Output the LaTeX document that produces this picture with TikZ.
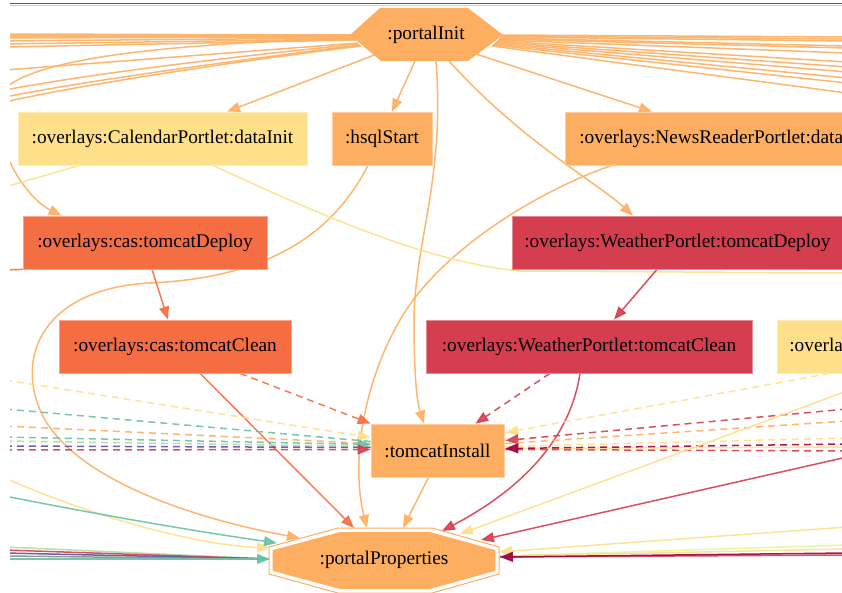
\documentclass[tikz,border=0pt]{standalone}
\usepackage{fontspec}
\setmainfont{Liberation Serif}
\usetikzlibrary{arrows.meta,calc}
\definecolor{cOr}{HTML}{FDAE61}
\definecolor{cYe}{HTML}{FEE08B}
\definecolor{cRo}{HTML}{F46D43}
\definecolor{cRe}{HTML}{D53E4F}
\definecolor{cTe}{HTML}{66C2A5}
\definecolor{cDr}{HTML}{9E0142}
\definecolor{cPu}{HTML}{5E4FA2}
\definecolor{cGr}{HTML}{ABDDA4}
\definecolor{cLg}{HTML}{E6F598}
\newcommand\nf{\fontsize{19.3}{23}\selectfont}
\pgfdeclarelayer{bg}
\pgfsetlayers{bg,main}
\tikzset{
  box/.style={rectangle, minimum height=53pt, inner sep=0pt, font=\nf, text=black, line width=0.7pt},
  ed/.style={line width=1.5pt, opacity=0.9},
  dsh/.style={ed, dash pattern=on 7pt off 5pt},
  arr/.style={-{Triangle[length=13pt,width=10pt]}},
}
\begin{document}
\begin{tikzpicture}[x=1pt,y=-1pt]
\useasboundingbox (0,0) rectangle (842,593);
\draw[black!65, line width=1.1pt] (10,3.2) -- (842,3.2);
\draw[black!20, line width=0.6pt] (10,5) -- (842,5);
\begin{scope}
\clip (10,6) rectangle (842,593);
% ---------- nodes ----------
\fill[cOr] (380,8) -- (468,8) -- (503,35) -- (468,61) -- (381,61) -- (350,35) -- cycle;
\node[font=\nf] (pI) at (426,35) {:portalInit};
\node[box, fill=cYe, draw=cYe!60!white, minimum width=289pt] (cal) at (162.5,138.5) {:overlays:CalendarPortlet:dataInit};
\node[box, fill=cOr, draw=cOr!60!white, minimum width=100pt] (hsql) at (382,138.5) {:hsqlStart};
\node[box, fill=cOr, draw=cOr!60!white, anchor=west, inner xsep=14pt] (news) at (565,138.5) {:overlays:NewsReaderPortlet:dataInit};
\node[box, fill=cRo, draw=cRo!60!white, minimum width=244pt] (casD) at (145,242.5) {:overlays:cas:tomcatDeploy};
\node[box, fill=cRe, draw=cRe!60!white, anchor=west, inner xsep=12pt] (wD) at (512,242.5) {:overlays:WeatherPortlet:tomcatDeploy};
\node[box, fill=cRo, draw=cRo!60!white, minimum width=232pt] (casC) at (175,346.5) {:overlays:cas:tomcatClean};
\node[box, fill=cRe, draw=cRe!60!white, minimum width=326pt] (wC) at (589,346.5) {:overlays:WeatherPortlet:tomcatClean};
\node[box, fill=cYe, draw=cYe!60!white, anchor=west, inner xsep=12pt] (ovl) at (777,346.5) {:overlays:CalendarPortlet:tomcatClean};
\node[box, fill=cOr, draw=cOr!60!white, minimum width=133pt] (tI) at (437.5,450.5) {:tomcatInstall};
\draw[cOr, line width=1pt, fill=white] (338,528) -- (432,528) -- (499,547) -- (499,574) -- (432,593) -- (338,593) -- (269,574) -- (269,547) -- cycle;
\filldraw[cOr, line width=0.8pt] (340,532.5) -- (430,532.5) -- (495,550.5) -- (495,570.5) -- (430,588.5) -- (340,588.5) -- (273,570.5) -- (273,550.5) -- cycle;
\node[font=\nf] (pP) at (384,560) {:portalProperties};
\end{scope}
% ---------- edges ----------
\begin{pgfonlayer}{bg}
\begin{scope}
\clip (10,6) rectangle (842,593);
\foreach \n/\y in {a/34,b/36,c/38,d/41,e/44,f/47,g/70,h/90,i/97,j/102}{\coordinate (L\n) at (5,\y);}
\foreach \n/\y in {a/37,b/39,c/41,d/46,e/48,f/53,g/62,h/67,i/72,j/78,k/83,l/93}{\coordinate (R\n) at (847,\y);}
% portalInit fan to the left
\draw[ed,cOr] ($(pI)+(-74,0)$) -- (La);
\draw[ed,cOr] ($(pI)+(-74,1)$) -- (Lb);
\draw[ed,cOr] ($(pI)+(-73,2)$) -- (Lc);
\draw[ed,cOr] ($(pI)+(-72,3)$) -- (Ld);
\draw[ed,cOr] ($(pI)+(-71,4)$) -- (Le);
\draw[ed,cOr] ($(pI)+(-70,5)$) -- (Lf);
\draw[ed,cOr] ($(pI)+(-68,8)$) -- (Lg);
\draw[ed,cOr] ($(pI)+(-67,9)$) .. controls (250,55) and (100,72) .. (Lh);
\draw[ed,cOr] ($(pI)+(-66,10)$) .. controls (240,60) and (90,80) .. (Li);
\draw[ed,cOr] ($(pI)+(-65,11)$) .. controls (230,62) and (80,85) .. (Lj);
% portalInit fan to the right
\draw[ed,cOr] ($(pI)+(76,0)$) -- (Ra);
\draw[ed,cOr] ($(pI)+(76,1)$) -- (Rb);
\draw[ed,cOr] ($(pI)+(75,2)$) -- (Rc);
\draw[ed,cOr] ($(pI)+(74,3)$) -- (Rd);
\draw[ed,cOr] ($(pI)+(73,4)$) -- (Re);
\draw[ed,cOr] ($(pI)+(72,5)$) -- (Rf);
\draw[ed,cOr] ($(pI)+(71,6)$) -- (Rg);
\draw[ed,cOr] ($(pI)+(70,7)$) -- (Rh);
\draw[ed,cOr] ($(pI)+(69,8)$) -- (Ri);
\draw[ed,cOr] ($(pI)+(68,9)$) -- (Rj);
\draw[ed,cOr] ($(pI)+(67,10)$) -- (Rk);
\draw[ed,cOr] ($(pI)+(66,11)$) -- (Rl);
% portalInit to its children
\draw[ed,cOr,arr] ($(pI)+(-49,19)$) -- ($(cal.north)+(64.5,0)$);
\draw[ed,cOr,arr] ($(pI)+(-11,26)$) -- ($(hsql.north)+(10,0)$);
\draw[ed,cOr,arr] ($(pI)+(50,19)$) -- ($(news.north west)+(87,0)$);
\draw[ed,cOr,arr] ($(pI)+(23,26)$) .. controls (520,140) and (600,185) .. ($(wD.north west)+(121,0)$);
\draw[ed,cOr,arr] ($(pI)+(10,26)$) .. controls (445,180) and (415,240) .. (414,320) .. controls (414,385) and (418,405) .. ($(tI.north)+(-13.5,0)$);
\draw[ed,cOr,arr] ($(pI)+(-74,3)$) .. controls (150,45) and (-10,60) .. (-5,110) .. controls (0,160) and (30,200) .. ($(casD.north west)+(39,0)$);
% hsqlStart and NewsReader to portalProperties
\draw[ed,cOr,arr] ($(hsql.south)+(-14,0)$) .. controls (330,240) and (260,278) .. (150,283) .. controls (50,288) and (15,350) .. (40,410) .. controls (70,480) and (200,520) .. ($(pP)+(-84,-22)$);
\draw[ed,cOr,arr] ($(news.south west)+(47,0)$) .. controls (540,190) and (440,250) .. (400,320) .. controls (365,380) and (350,460) .. ($(pP)+(-17,-32)$);
% CalendarPortlet dataInit
\draw[ed,cYe] ($(cal.south west)+(62,0)$) -- (5,187);
\draw[ed,cYe] ($(cal.south west)+(195,0)$) .. controls (300,205) and (420,262) .. (520,271) -- (847,273);
% cas chain
\draw[ed,cRo] (casD.south west) -- (5,270);
\draw[ed,cRo,arr] ($(casD.south)+(7,0)$) -- ($(casC.north)+(-7,0)$);
\draw[dsh,cRo,arr] ($(casC.south)+(65,0)$) -- (tI.north west);
\draw[ed,cRo,arr] ($(casC.south)+(25,0)$) -- ($(pP)+(-30,-32)$);
% Weather chain
\draw[ed,cRe,arr] ($(wD.south west)+(145,0)$) -- ($(wC.north)+(25,0)$);
\draw[dsh,cRe,arr] ($(wC.south)+(-39,0)$) -- ($(tI.north east)+(-29,0)$);
\draw[ed,cRe,arr] ($(wC.south)+(-9,0)$) .. controls (570,440) and (520,490) .. ($(pP)+(58,-29)$);
% yellow clean to tomcatInstall
\draw[dsh,cYe,arr] ($(ovl.south west)+(53,0)$) -- ($(tI.north east)+(1,9)$);
% tomcatInstall to portalProperties
\draw[ed,cOr,arr] ($(tI.south)+(-9,0)$) -- ($(pP)+(19,-32)$);
% dashed from the left into tomcatInstall
\draw[dsh,cYe,arr] (5,380) -- ($(tI.west)+(0,-13)$);
\draw[dsh,cTe] (5,409) -- ($(tI.west)+(0,-9)$);
\draw[dsh,cOr] (5,426) -- ($(tI.west)+(0,-7)$);
\draw[dsh,cTe,arr] (5,437) -- ($(tI.west)+(0,-6)$);
\draw[dsh,cGr] (5,441) -- ($(tI.west)+(0,-4)$);
\draw[dsh,cPu] (5,446) -- ($(tI.west)+(0,-3)$);
\draw[dsh,cRe,arr] (5,450) -- ($(tI.west)+(0,-1)$);
% dashed from the right into tomcatInstall
\draw[dsh,cRe,arr] (847,409) -- ($(tI.east)+(1,-10)$);
\draw[dsh,cOr] (847,421) -- ($(tI.east)+(1,-7)$);
\draw[dsh,cYe] (847,438) -- ($(tI.east)+(1,-4)$);
\draw[ed,cYe] (847,447) -- ($(tI.east)+(1,-2)$);
\draw[dsh,cRe] (847,451) -- ($(tI.east)+(1,-1)$);
\draw[dsh,cDr,arr] (847,444) -- ($(tI.east)+(1,-2)$);
% solid from the right into portalProperties
\draw[ed,cYe,arr] (847,391) -- ($(pP)+(76,-26)$);
\draw[ed,cRe,arr] (847,457) -- ($(pP)+(97,-20)$);
\draw[ed,cYe,arr] (847,527) -- ($(pP)+(115,-8)$);
\draw[ed,cLg] (847,545) -- ($(pP)+(116,-4)$);
\draw[ed,cYe] (847,549) -- ($(pP)+(116,-4)$);
\draw[ed,cRe] (847,555) -- ($(pP)+(116,-3)$);
\draw[ed,cDr,arr] (847,553) -- ($(pP)+(116,-3)$);
% solid from the left into portalProperties
\draw[ed,cYe,arr] (5,478) .. controls (100,520) and (200,545) .. ($(pP)+(-114,-12)$);
\draw[ed,cTe,arr] (5,496) .. controls (100,515) and (200,532) .. ($(pP)+(-107,-17)$);
\draw[ed,cGr] (5,547) -- ($(pP)+(-114,-1)$);
\draw[ed,cRe] (5,550) -- ($(pP)+(-114,-1)$);
\draw[ed,cPu] (5,553) -- ($(pP)+(-114,-1)$);
\draw[ed,black!45] (5,556) -- ($(pP)+(-114,-1)$);
\draw[ed,cTe,arr] (5,559) -- ($(pP)+(-114,-1)$);
\end{scope}
\end{pgfonlayer}
\end{tikzpicture}
\end{document}
